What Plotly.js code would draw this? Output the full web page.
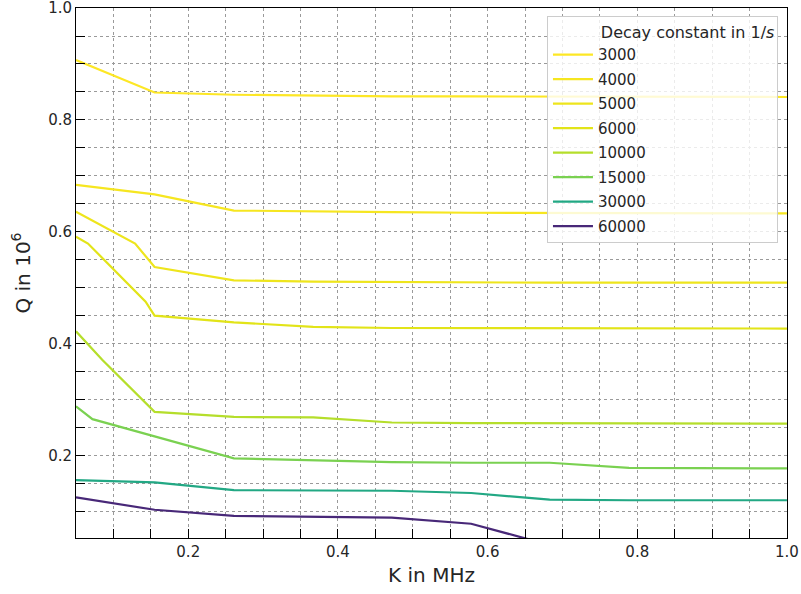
<!DOCTYPE html>
<html>
<head>
<meta charset="utf-8">
<script src="https://cdn.plot.ly/plotly-3.0.1.min.js"></script>
<style>
html, body { margin: 0; padding: 0; background: #ffffff; }
#chart { width: 801px; height: 594px; }
</style>
</head>
<body>
<div id="chart"></div>
<script>
// Decay constants (legend labels)
const decayLabels = ["3000", "4000", "5000", "6000", "10000", "15000", "30000", "60000"];

// K in MHz and Q in 10^6 for each decay constant
const k3000 = [0.05, 0.155, 0.261, 0.367, 0.472, 0.578, 0.683, 0.789, 0.894, 1.0];
const q3000 = [0.907, 0.849, 0.845, 0.843, 0.842, 0.842, 0.842, 0.842, 0.841, 0.841];

const k4000 = [0.05, 0.155, 0.261, 0.367, 0.472, 0.578, 0.683, 0.789, 0.894, 1.0];
const q4000 = [0.684, 0.667, 0.638, 0.636, 0.635, 0.634, 0.634, 0.634, 0.634, 0.633];

const k5000 = [0.05, 0.129, 0.155, 0.261, 0.367, 0.472, 0.578, 0.683, 0.789, 0.894, 1.0];
const q5000 = [0.636, 0.579, 0.537, 0.513, 0.511, 0.510, 0.510, 0.509, 0.509, 0.509, 0.509];

const k6000 = [0.05, 0.066, 0.143, 0.155, 0.261, 0.367, 0.472, 0.578, 0.683, 0.789, 0.894, 1.0];
const q6000 = [0.591, 0.579, 0.475, 0.450, 0.438, 0.430, 0.428, 0.428, 0.427, 0.427, 0.427, 0.427];

const k10000 = [0.05, 0.085, 0.155, 0.261, 0.367, 0.472, 0.578, 0.683, 0.789, 0.894, 1.0];
const q10000 = [0.422, 0.371, 0.278, 0.269, 0.268, 0.259, 0.258, 0.258, 0.257, 0.257, 0.257];

const k15000 = [0.05, 0.072, 0.261, 0.367, 0.472, 0.578, 0.683, 0.789, 0.894, 1.0];
const q15000 = [0.288, 0.265, 0.195, 0.191, 0.188, 0.187, 0.187, 0.178, 0.177, 0.177];

const k30000 = [0.05, 0.155, 0.261, 0.367, 0.472, 0.578, 0.683, 0.789, 0.894, 1.0];
const q30000 = [0.156, 0.152, 0.138, 0.137, 0.137, 0.133, 0.121, 0.120, 0.120, 0.120];

const k60000 = [0.05, 0.155, 0.261, 0.367, 0.472, 0.578, 0.683];
const q60000 = [0.125, 0.103, 0.092, 0.090, 0.089, 0.078, 0.040];

const kSeries = [k3000, k4000, k5000, k6000, k10000, k15000, k30000, k60000];
const qSeries = [q3000, q4000, q5000, q6000, q10000, q15000, q30000, q60000];
const lineColors = ["#fde725", "#f6e620", "#eee51c", "#e2e418", "#b5de2b", "#7ad151", "#22a884", "#482878"];

const traces = decayLabels.map((lab, i) => ({
  type: "scatter",
  mode: "lines",
  x: kSeries[i],
  y: qSeries[i],
  name: lab,
  legendgroup: "g" + i,
  line: { color: lineColors[i], width: 2.2 }
}));

const axisCommon = {
  showline: true,
  linecolor: "#000000",
  linewidth: 1,
  mirror: true,
  ticks: "inside",
  ticklen: 9,
  tickwidth: 1,
  tickcolor: "#000000",
  showgrid: true,
  gridcolor: "#9a9a9a",
  gridwidth: 1,
  griddash: "dot",
  zeroline: false,
  ticklabeloverflow: "allow",
  tickfont: { family: "DejaVu Sans", size: 15, color: "#262626" },
  minor: {
    dtick: 0.05,
    ticks: "inside",
    ticklen: 9,
    tickwidth: 1,
    tickcolor: "#000000",
    showgrid: true,
    gridcolor: "#9a9a9a",
    gridwidth: 1,
    griddash: "dot"
  }
};

const layout = {
  width: 801,
  height: 594,
  margin: { l: 76, r: 14, t: 8, b: 56 },
  paper_bgcolor: "#ffffff",
  plot_bgcolor: "#ffffff",
  font: { family: "DejaVu Sans", color: "#262626" },
  xaxis: Object.assign({}, axisCommon, {
    range: [0.05, 1.0001],
    tick0: 0,
    dtick: 0.2,
    tickformat: ".1f",
    title: { text: "K in MHz", font: { family: "DejaVu Sans", size: 20, color: "#262626" }, standoff: 7 }
  }),
  yaxis: Object.assign({}, axisCommon, {
    range: [0.0525, 1.0001],
    tick0: 0,
    dtick: 0.2,
    tickformat: ".1f",
    title: { text: "Q in 10<sup>6</sup>", font: { family: "DejaVu Sans", size: 20, color: "#262626" }, standoff: 12 }
  }),
  legend: {
    x: 0.6624,
    y: 0.984,
    xanchor: "left",
    yanchor: "top",
    bgcolor: "rgba(255,255,255,0.8)",
    bordercolor: "#cccccc",
    borderwidth: 1,
    font: { family: "DejaVu Sans", size: 15, color: "#262626" },
    itemwidth: 40,
    tracegroupgap: 2,
    title: {
      text: "\u00a0\u00a0\u00a0\u00a0\u00a0\u00a0\u00a0\u00a0\u00a0\u00a0Decay constant in 1/<i>s</i>",
      font: { family: "DejaVu Sans", size: 16, color: "#262626" },
      side: "top"
    }
  },
  showlegend: true
};

Plotly.newPlot("chart", traces, layout, { displayModeBar: false, staticPlot: true });
</script>
</body>
</html>
